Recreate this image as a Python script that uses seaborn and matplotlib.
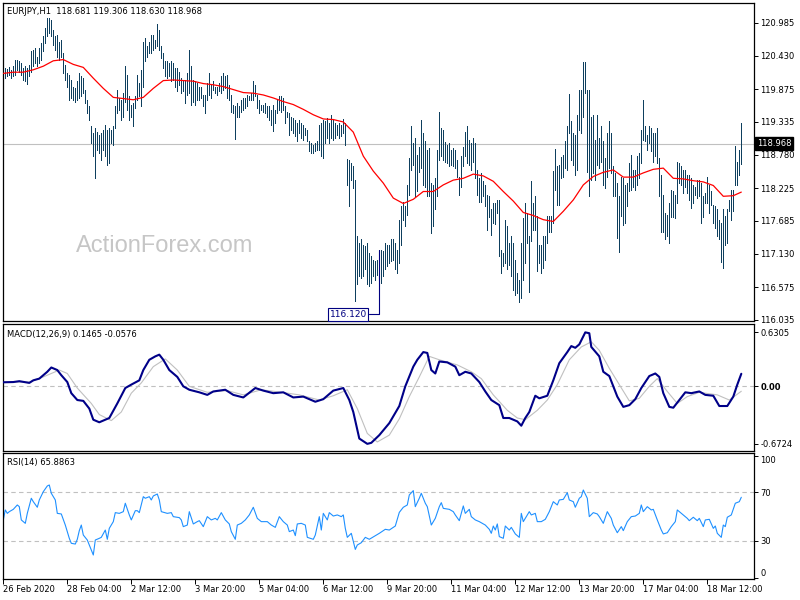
import numpy as np
import pandas as pd
import matplotlib
matplotlib.use('Agg')
import matplotlib.pyplot as plt
import matplotlib.transforms as mtransforms
import seaborn as sns

# EURJPY H1, one entry per hourly bar
bar_high = [
    120.20, 120.23, 120.21, 120.24, 120.20, 120.26, 120.37, 120.37, 120.34, 120.31,
    120.23, 120.26, 120.23, 120.28, 120.51, 120.53, 120.56, 120.42, 120.56, 120.64,
    120.76, 120.89, 121.06, 121.06, 121.03, 120.87, 120.76, 120.78, 120.67, 120.70,
    120.48, 120.28, 120.14, 120.12, 120.03, 119.92, 119.89, 120.01, 120.14, 120.09,
    120.06, 119.87, 119.70, 119.59, 119.26, 119.14, 119.23, 119.17, 119.12, 119.14,
    119.20, 119.28, 119.20, 119.23, 119.20, 119.26, 119.59, 119.87, 119.73, 119.70,
    119.81, 120.26, 120.12, 119.76, 119.62, 119.64, 119.76, 120.12, 119.98, 120.20,
    120.67, 120.73, 120.59, 120.67, 120.78, 120.78, 120.70, 120.97, 120.87, 120.59,
    120.48, 120.34, 120.34, 120.31, 120.34, 120.31, 120.23, 120.23, 120.17, 120.06,
    120.01, 120.03, 120.14, 120.53, 120.26, 120.03, 120.01, 119.98, 119.92, 119.92,
    119.78, 119.78, 119.98, 120.14, 119.95, 120.01, 119.92, 119.92, 119.98, 120.09,
    120.15, 120.09, 120.12, 119.95, 119.78, 119.62, 119.59, 119.64, 119.59, 119.70,
    119.73, 119.73, 119.78, 119.76, 119.81, 120.02, 119.95, 119.78, 119.70, 119.62,
    119.62, 119.64, 119.59, 119.59, 119.53, 119.62, 119.53, 119.70, 119.76, 119.76,
    119.73, 119.59, 119.50, 119.48, 119.42, 119.39, 119.37, 119.31, 119.37, 119.31,
    119.28, 119.23, 119.20, 119.01, 118.98, 118.95, 118.98, 119.01, 119.28, 119.31,
    119.37, 119.34, 119.39, 119.31, 119.45, 119.37, 119.31, 119.28, 119.31, 119.28,
    119.38, 119.31, 118.71, 118.70, 118.64, 118.59, 118.37, 117.42, 117.31, 117.37,
    117.28, 117.26, 117.31, 117.14, 117.09, 117.03, 117.01, 117.03, 117.20, 117.20,
    117.17, 117.31, 117.28, 117.28, 117.37, 117.37, 117.31, 117.20, 117.70, 117.92,
    118.00, 117.92, 118.28, 118.73, 119.26, 118.98, 119.06, 118.78, 118.92, 119.37,
    119.14, 119.01, 118.87, 118.89, 118.31, 118.28, 118.39, 118.87, 119.50, 119.23,
    119.20, 119.00, 118.95, 118.98, 118.87, 118.89, 118.87, 118.70, 118.42, 118.76,
    118.92, 119.17, 119.26, 119.03, 118.98, 119.06, 118.98, 118.53, 118.39, 118.48,
    118.34, 118.28, 118.11, 118.09, 117.87, 117.98, 117.98, 118.03, 118.03, 117.20,
    117.14, 117.70, 117.59, 117.31, 117.42, 117.31, 117.03, 116.81, 116.70, 117.31,
    117.73, 117.98, 117.81, 117.42, 118.34, 117.98, 118.09, 117.76, 117.28, 117.28,
    117.42, 117.42, 117.76, 117.76, 117.76, 118.51, 118.88, 118.59, 118.61, 118.75,
    118.78, 119.01, 119.26, 119.80, 119.34, 119.14, 119.12, 119.45, 119.87, 119.87,
    120.33, 120.33, 119.87, 119.87, 119.42, 119.45, 119.03, 119.45, 119.06, 119.26,
    119.01, 118.73, 119.14, 119.34, 119.14, 118.59, 118.48, 118.31, 118.09, 118.42,
    118.39, 118.28, 118.31, 118.64, 118.78, 118.53, 118.53, 118.76, 118.81, 119.20,
    119.70, 119.26, 119.12, 119.26, 119.23, 119.14, 119.14, 119.23, 118.73, 118.45,
    118.11, 117.81, 117.78, 117.98, 118.20, 118.17, 118.11, 118.67, 118.64, 118.59,
    118.53, 118.53, 118.45, 118.45, 118.39, 118.28, 118.25, 118.36, 118.36, 118.31,
    118.09, 118.14, 118.42, 118.28, 118.17, 117.95, 117.92, 117.87, 117.70, 117.64,
    117.87, 117.76, 117.87, 118.03, 118.20, 118.20, 118.93, 118.67, 118.87, 119.31,
]
bar_low = [
    119.98, 120.06, 120.09, 120.12, 120.06, 120.09, 120.12, 120.20, 120.17, 120.12,
    120.03, 120.01, 119.97, 120.09, 120.17, 120.26, 120.31, 120.26, 120.31, 120.37,
    120.51, 120.64, 120.76, 120.81, 120.76, 120.62, 120.53, 120.42, 120.37, 120.42,
    120.14, 120.03, 119.92, 119.70, 119.73, 119.70, 119.67, 119.70, 119.73, 119.76,
    119.81, 119.64, 119.48, 119.37, 118.98, 118.76, 118.39, 118.87, 118.81, 118.70,
    118.87, 118.76, 118.62, 118.64, 118.98, 118.95, 119.23, 119.48, 119.53, 119.37,
    119.42, 119.67, 119.53, 119.37, 119.42, 119.26, 119.56, 119.70, 119.76, 119.59,
    119.92, 120.34, 120.42, 120.48, 120.48, 120.53, 120.56, 120.59, 120.53, 120.39,
    120.23, 120.09, 120.06, 120.09, 120.01, 120.03, 119.92, 119.84, 119.95, 119.81,
    119.84, 119.64, 119.78, 119.81, 119.62, 119.67, 119.62, 119.70, 119.70, 119.73,
    119.59, 119.48, 119.70, 119.78, 119.73, 119.87, 119.81, 119.78, 119.84, 119.81,
    119.87, 119.89, 119.73, 119.70, 119.50, 119.48, 119.04, 119.42, 119.42, 119.50,
    119.53, 119.56, 119.59, 119.70, 119.70, 119.70, 119.76, 119.56, 119.48, 119.53,
    119.50, 119.48, 119.42, 119.37, 119.28, 119.18, 119.31, 119.48, 119.53, 119.50,
    119.53, 119.31, 119.42, 119.12, 119.20, 119.14, 119.09, 119.01, 119.14, 119.06,
    119.03, 119.12, 119.01, 118.84, 118.81, 118.81, 118.84, 118.87, 118.87, 118.76,
    118.73, 118.98, 119.06, 118.98, 119.06, 119.03, 119.06, 119.12, 119.06, 119.09,
    119.14, 118.95, 118.28, 117.92, 118.37, 118.23, 116.34, 116.62, 116.76, 116.73,
    116.76, 116.87, 116.62, 116.59, 116.64, 116.76, 116.70, 116.78, 116.70, 116.64,
    116.76, 116.87, 116.92, 116.98, 117.01, 117.03, 116.87, 116.81, 116.98, 117.28,
    117.70, 117.59, 117.78, 118.11, 118.53, 118.62, 118.09, 118.17, 118.50, 118.56,
    118.28, 118.25, 118.09, 118.09, 117.48, 117.59, 117.87, 118.09, 118.70, 118.76,
    118.70, 118.67, 118.64, 118.59, 118.62, 118.59, 118.56, 118.42, 118.11, 118.25,
    118.59, 118.76, 118.64, 118.62, 118.53, 118.67, 118.39, 118.11, 118.00, 118.00,
    118.09, 117.92, 117.53, 117.75, 117.45, 117.64, 117.62, 117.81, 117.09, 116.81,
    116.92, 116.98, 116.87, 116.95, 116.76, 116.53, 116.45, 116.48, 116.33, 116.39,
    116.70, 116.98, 117.31, 116.50, 117.34, 117.53, 117.53, 116.84, 116.98, 116.81,
    116.89, 117.03, 117.31, 117.50, 117.50, 117.64, 118.20, 117.95, 117.95, 118.39,
    118.42, 118.56, 118.53, 119.14, 118.70, 118.62, 118.45, 118.53, 119.20, 119.14,
    119.42, 119.81, 118.50, 118.09, 118.36, 118.48, 118.36, 118.62, 118.56, 118.67,
    118.28, 118.23, 118.42, 118.56, 118.48, 118.09, 118.09, 117.39, 117.16, 117.76,
    117.61, 117.64, 117.92, 118.17, 118.20, 118.25, 118.20, 118.28, 118.39, 118.64,
    119.03, 119.01, 118.87, 118.98, 118.84, 118.67, 118.76, 118.64, 118.09, 117.50,
    117.50, 117.37, 117.42, 117.31, 117.75, 117.75, 117.73, 117.98, 118.31, 118.28,
    118.14, 118.25, 118.14, 118.03, 117.89, 117.98, 118.11, 118.06, 118.09, 117.64,
    117.75, 117.98, 117.98, 117.81, 117.95, 117.64, 117.56, 117.42, 117.37, 117.00,
    116.90, 117.28, 117.31, 117.84, 117.70, 117.84, 118.28, 118.28, 118.45, 118.63,
]

# red moving average, read every few bars
ma_idx = [0, 5, 10, 15, 20, 25, 30, 35, 40, 45, 50, 55, 60, 65, 70, 75, 80, 85, 90,
          95, 100, 105, 110, 115, 120, 125, 130, 135, 140, 145, 150, 155, 160, 165,
          170, 175, 180, 185, 190, 195, 200, 205, 210, 215, 220, 225, 230, 235, 240,
          245, 250, 255, 260, 265, 270, 275, 280, 285, 290, 295, 300, 305, 310, 315,
          320, 325, 330, 335, 340, 345, 350, 355, 360, 365, 369]
ma_val = [120.14, 120.16, 120.16, 120.20, 120.26, 120.35, 120.37, 120.29, 120.24,
          120.06, 119.89, 119.74, 119.72, 119.70, 119.74, 119.89, 120.02, 120.03,
          120.02, 120.01, 119.97, 119.95, 119.92, 119.87, 119.82, 119.81, 119.78,
          119.73, 119.67, 119.62, 119.54, 119.45, 119.38, 119.37, 119.33, 119.16,
          118.76, 118.51, 118.31, 118.06, 117.97, 118.04, 118.17, 118.17, 118.28,
          118.36, 118.39, 118.46, 118.43, 118.34, 118.17, 118.01, 117.82, 117.77,
          117.70, 117.67, 117.84, 118.03, 118.28, 118.42, 118.49, 118.53, 118.41,
          118.41, 118.48, 118.54, 118.56, 118.39, 118.38, 118.35, 118.33, 118.27,
          118.09, 118.10, 118.16]

macd_idx = [0, 5, 8, 13, 15, 18, 22, 24, 27, 29, 32, 34, 37, 40, 43, 45, 48, 51, 53,
            57, 61, 64, 68, 70, 73, 76, 78, 80, 83, 87, 90, 93, 98, 102, 105, 111,
            115, 120, 126, 130, 135, 140, 145, 150, 156, 160, 165, 170, 173, 175, 178,
            182, 184, 188, 193, 198, 201, 205, 207, 210, 212, 214, 216, 218, 222, 226,
            228, 231, 234, 238, 241, 244, 248, 250, 253, 257, 259, 261, 263, 266, 268,
            272, 275, 278, 282, 284, 286, 288, 291, 293, 294, 298, 300, 303, 307, 310,
            313, 316, 319, 323, 326, 328, 330, 333, 335, 338, 341, 344, 348, 351, 355,
            358, 362, 365, 367, 369]
macd_val = [0.047, 0.05, 0.06, 0.04, 0.07, 0.09, 0.17, 0.22, 0.19, 0.13, 0.05, -0.08,
            -0.16, -0.17, -0.26, -0.39, -0.42, -0.39, -0.37, -0.20, -0.02, 0.02, 0.07,
            0.19, 0.31, 0.35, 0.37, 0.31, 0.19, 0.11, 0.00, -0.04, -0.07, -0.10, -0.06,
            -0.04, -0.10, -0.13, -0.02, -0.05, -0.08, -0.07, -0.13, -0.12, -0.18,
            -0.15, -0.05, -0.02, -0.16, -0.30, -0.61, -0.672, -0.66, -0.57, -0.43,
            -0.23, 0.00, 0.23, 0.31, 0.40, 0.39, 0.19, 0.15, 0.29, 0.28, 0.23, 0.13,
            0.17, 0.15, 0.05, -0.06, -0.16, -0.22, -0.37, -0.37, -0.41, -0.46, -0.37,
            -0.30, -0.11, -0.14, -0.11, 0.07, 0.27, 0.40, 0.47, 0.45, 0.49, 0.6305,
            0.62, 0.46, 0.35, 0.17, 0.12, -0.12, -0.24, -0.22, -0.15, -0.02, 0.12,
            0.15, 0.11, -0.08, -0.24, -0.25, -0.16, -0.07, -0.08, -0.06, -0.10, -0.11,
            -0.23, -0.23, -0.12, 0.02, 0.1465]

signal_idx = [0, 13, 20, 28, 32, 37, 44, 48, 54, 59, 64, 69, 75, 81, 87, 93, 102, 112,
              120, 129, 139, 148, 158, 165, 172, 177, 182, 187, 193, 198, 203, 208,
              213, 218, 227, 234, 239, 245, 252, 257, 261, 267, 272, 277, 283, 289,
              294, 298, 303, 308, 313, 318, 323, 327, 332, 337, 342, 348, 357, 363, 369]
signal_val = [0.05, 0.05, 0.11, 0.19, 0.15, -0.02, -0.20, -0.33, -0.40, -0.30, -0.08,
              0.04, 0.23, 0.32, 0.19, 0.00, -0.07, -0.05, -0.10, -0.04, -0.07, -0.10,
              -0.16, -0.11, -0.04, -0.26, -0.55, -0.65, -0.57, -0.38, -0.12, 0.11,
              0.35, 0.31, 0.25, 0.17, 0.09, -0.10, -0.28, -0.37, -0.39, -0.28, -0.16,
              0.02, 0.31, 0.46, 0.52, 0.42, 0.21, 0.02, -0.17, -0.14, 0.00, 0.09,
              -0.06, -0.20, -0.12, -0.07, -0.10, -0.16, -0.0576]

rsi_idx = [0, 1, 2, 3, 5, 7, 8, 9, 11, 12, 14, 15, 17, 18, 20, 22, 23, 24, 26, 27, 29,
           31, 33, 34, 36, 37, 38, 39, 40, 42, 43, 45, 46, 48, 49, 51, 52, 53, 55, 56,
           58, 60, 61, 63, 64, 66, 67, 68, 70, 71, 73, 74, 75, 77, 78, 79, 82, 84, 85,
           88, 89, 90, 92, 93, 95, 97, 98, 100, 102, 104, 106, 107, 109, 111, 113, 114,
           116, 117, 119, 121, 123, 125, 127, 129, 132, 134, 136, 138, 140, 142, 143,
           145, 146, 147, 149, 151, 152, 155, 156, 158, 159, 160, 162, 163, 165, 167,
           169, 170, 171, 172, 174, 176, 177, 179, 181, 183, 186, 188, 191, 193, 196,
           198, 200, 202, 203, 205, 206, 208, 209, 211, 212, 214, 216, 218, 219, 220,
           223, 225, 226, 228, 230, 231, 233, 234, 236, 238, 241, 243, 244, 245, 246,
           247, 248, 250, 251, 253, 254, 256, 258, 259, 260, 263, 264, 266, 267, 269,
           271, 273, 275, 277, 278, 280, 282, 283, 285, 286, 288, 289, 290, 292, 293,
           295, 297, 298, 300, 302, 304, 305, 307, 309, 310, 312, 314, 316, 318, 319,
           320, 322, 324, 325, 327, 329, 330, 332, 334, 336, 337, 339, 340, 342, 343,
           345, 347, 348, 350, 351, 353, 355, 356, 357, 359, 360, 361, 362, 364, 366,
           368, 369]
rsi_val = [47.3, 55.5, 52.7, 54.1, 56.0, 59.6, 58.2, 47.3, 44.5, 52.7, 65.1, 62.3, 57.7,
           63.7, 70.5, 75.2, 76.0, 69.2, 63.7, 52.7, 52.2, 43.1, 32.2, 28.1, 27.5, 31.4,
           38.5, 43.1, 34.9, 30.8, 26.7, 18.5, 30.8, 32.2, 33.0, 39.0, 31.4, 40.4, 45.9,
           53.3, 52.7, 54.1, 61.0, 51.4, 47.3, 54.9, 54.9, 53.3, 66.4, 65.1, 66.4, 63.7,
           67.0, 68.6, 63.7, 54.1, 52.7, 53.3, 50.0, 49.2, 47.3, 41.8, 43.1, 54.1, 44.0,
           45.9, 46.7, 41.8, 50.0, 47.3, 48.6, 47.3, 53.3, 47.3, 44.0, 37.7, 31.4, 43.1,
           44.5, 47.3, 51.4, 57.7, 48.6, 45.9, 45.9, 43.1, 41.2, 50.0, 45.9, 43.1, 37.7,
           39.0, 34.4, 44.0, 44.5, 43.1, 33.0, 31.4, 34.9, 50.0, 39.0, 52.7, 47.3, 53.3,
           50.5, 51.4, 50.0, 51.4, 40.4, 33.0, 36.3, 23.1, 26.7, 28.6, 33.0, 31.4, 34.4,
           36.3, 39.6, 39.0, 42.3, 53.5, 57.7, 59.6, 67.8, 71.4, 58.2, 65.1, 69.2, 61.0,
           58.2, 43.1, 48.6, 58.2, 61.5, 56.8, 56.0, 54.1, 51.4, 46.7, 58.8, 52.7, 56.0,
           50.0, 47.3, 45.9, 43.1, 39.6, 36.3, 42.3, 39.0, 44.0, 33.6, 32.2, 42.3, 39.0,
           41.2, 35.8, 33.0, 52.7, 45.9, 54.1, 51.4, 52.7, 45.9, 45.9, 47.8, 54.1, 62.3,
           59.6, 63.7, 64.2, 69.7, 63.7, 62.3, 57.7, 65.1, 66.4, 71.9, 65.1, 50.0, 53.3,
           52.2, 50.0, 44.5, 54.1, 48.6, 43.1, 36.8, 41.8, 38.5, 45.9, 50.0, 50.5, 52.7,
           59.6, 54.1, 58.2, 55.5, 56.0, 47.3, 39.0, 35.8, 36.8, 41.8, 45.9, 55.5, 52.7,
           51.4, 48.6, 46.7, 49.5, 46.7, 48.6, 41.8, 47.3, 47.8, 40.4, 42.3, 36.3, 33.0,
           43.1, 41.8, 49.5, 51.4, 61.0, 62.3, 65.9]

price_ticks = [120.985, 120.430, 119.875, 119.335, 118.780, 118.225, 117.685,
               117.130, 116.575, 116.035]
macd_ticks = [0.6305, 0.0, -0.6724]
rsi_ticks = [100, 70, 30, 0]
rsi_levels = [70, 30]
date_labels = ['26 Feb 2020', '28 Feb 04:00', '2 Mar 12:00', '3 Mar 20:00',
               '5 Mar 04:00', '6 Mar 12:00', '9 Mar 20:00', '11 Mar 04:00',
               '12 Mar 12:00', '13 Mar 20:00', '17 Mar 04:00', '18 Mar 12:00']
date_step = 32
last_price = 118.968
low_label = 116.120

sns.set_theme(style='white')
plt.rcParams['font.family'] = ['DejaVu Sans']

W, H = 800, 600


def box(left, top, right, bottom):
    # pixel box -> figure fraction rect
    return [left / W, 1 - bottom / H, (right - left) / W, (bottom - top) / H]


fig = plt.figure(figsize=(8, 6), dpi=100)
fig.patch.set_facecolor('white')
ax_p = fig.add_axes(box(2.5, 2.7, 754, 320.7))
ax_m = fig.add_axes(box(2.5, 324, 754, 450.7))
ax_r = fig.add_axes(box(2.5, 453.3, 754, 579.3))

bars = pd.DataFrame({'idx': np.arange(len(bar_high)), 'high': bar_high, 'low': bar_low})
xlim = (-0.4, 375.35)
bar_color = '#0e3f5e'
lab = dict(fontsize=6, color='black')

# ---- price panel ----
ax_p.axhline(last_price, color='#c0c0c0', lw=0.8, zorder=1)
ax_p.vlines(bars['idx'], bars['low'], bars['high'], color=bar_color,
            linewidth=0.45, antialiased=False, zorder=2)
sns.lineplot(x=ma_idx, y=ma_val, ax=ax_p, color='#ff0000', linewidth=0.9,
             estimator=None, sort=False, zorder=3)
ax_p.set_ylim(116.015, 121.319)

ax_p.text(172.4, low_label, f'{low_label:.3f}', ha='center', va='center',
          fontsize=6.5, color='#000080',
          bbox=dict(boxstyle='square,pad=0.18', fc='white', ec='#000080', lw=0.8),
          zorder=5)
ax_p.plot([182.9, 188.0, 188.0], [low_label, low_label, 117.20], color='#000080',
          lw=0.8, zorder=4)

ax_p.yaxis.tick_right()
ax_p.set_yticks(price_ticks)
ax_p.set_yticklabels([f'{v:.3f}' for v in price_ticks])

trans = mtransforms.blended_transform_factory(ax_p.transAxes, ax_p.transData)
ax_p.text(1.0035, last_price, f'{last_price:.3f}', transform=trans, ha='left',
          va='center', fontsize=6, color='white',
          bbox=dict(boxstyle='square,pad=0.2', fc='black', ec='black'), zorder=6)

fig.text(76 / W, 1 - 246 / H, 'ActionForex.com', fontsize=17, color='#c6c6c6',
         family=['Liberation Sans', 'DejaVu Sans'], ha='left', va='center')
fig.text(7 / W, 1 - 11 / H, 'EURJPY,H1  118.681 119.306 118.630 118.968',
         ha='left', va='center', **lab)

# ---- MACD panel ----
ax_m.axhline(0, color='#c0c0c0', lw=0.8, ls=(0, (4, 3)), zorder=1)
sns.lineplot(x=signal_idx, y=signal_val, ax=ax_m, color='#c0c0c0', linewidth=0.8,
             estimator=None, sort=False, zorder=2)
sns.lineplot(x=macd_idx, y=macd_val, ax=ax_m, color='#000088', linewidth=1.5,
             estimator=None, sort=False, zorder=3)
ax_m.set_ylim(-0.752, 0.728)
ax_m.yaxis.tick_right()
ax_m.set_yticks(macd_ticks)
ax_m.set_yticklabels(['0.6305', '0.00', '-0.6724'])
ax_m.get_yticklabels()[1].set_fontweight('bold')
fig.text(7 / W, 1 - 334 / H, 'MACD(12,26,9) 0.1465 -0.0576', ha='left',
         va='center', **lab)

# ---- RSI panel ----
for lv in rsi_levels:
    ax_r.axhline(lv, color='#c0c0c0', lw=0.8, ls=(0, (4, 3)), zorder=1)
sns.lineplot(x=rsi_idx, y=rsi_val, ax=ax_r, color='#1e90ff', linewidth=0.8,
             estimator=None, sort=False, zorder=2)
ax_r.set_ylim(-1.46, 102.03)
ax_r.yaxis.tick_right()
ax_r.set_yticks(rsi_ticks)
ax_r.set_yticklabels([str(v) for v in rsi_ticks])
ax_r.get_yticklabels()[0].set_va('top')
ax_r.get_yticklabels()[-1].set_va('bottom')
fig.text(7 / W, 1 - 463 / H, 'RSI(14) 65.8863', ha='left', va='center', **lab)

xt = [i * date_step for i in range(len(date_labels))]
ax_r.set_xticks(xt)
ax_r.set_xticklabels(date_labels, ha='left')

for ax in (ax_p, ax_m, ax_r):
    ax.set_xlim(*xlim)
    ax.set_facecolor('white')
    ax.set_xlabel('')
    ax.set_ylabel('')
    for sp in ax.spines.values():
        sp.set_color('black')
        sp.set_linewidth(0.9)
    ax.tick_params(axis='y', which='both', right=True, left=False, direction='out',
                   length=3, width=0.7, pad=1.5, labelsize=6, colors='black')
    if ax is not ax_r:
        ax.set_xticks([])
ax_r.tick_params(axis='x', bottom=True, direction='out', length=3.5, width=0.7,
                 pad=0.5, labelsize=6, colors='black')

fig.savefig('out.png', dpi=100, facecolor='white')
